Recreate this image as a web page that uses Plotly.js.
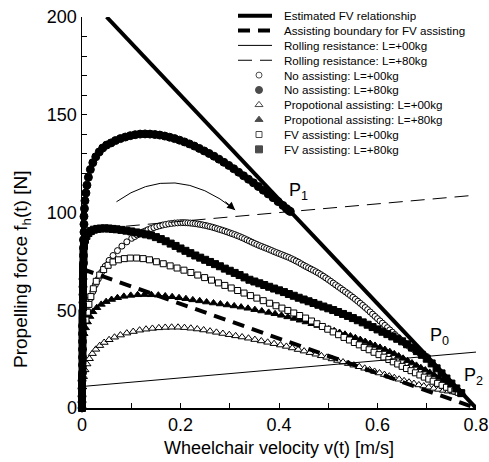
<!DOCTYPE html>
<html><head><meta charset="utf-8">
<script src="https://cdn.plot.ly/plotly-3.0.1.min.js"></script>
<style>html,body{margin:0;padding:0;background:#fff}</style>
</head><body><div id="chart" style="width:489px;height:462px"></div>
<script>
// ---------- data ----------
const fvLineV = [0.05, 0.8];
const fvLineF = [200, 0];
const boundaryV = [0, 0.8];
const boundaryF = [71.1, 0];
const rolling0V = [0, 0.8];
const rolling0F = [11, 28.6];
const rolling80V = [0, 0.8];
const rolling80F = [91, 108.9];

const noAsst0V = [0.010,0.013,0.017,0.022,0.027,0.033,0.040,0.047,0.055,0.063,0.072,0.081,0.091,
 0.101,0.107,0.112,0.118,0.123,0.129,0.134,0.140,0.146,0.152,0.158,0.164,0.170,0.176,0.182,0.188,0.194,0.200,
 0.205,0.21,0.215,0.22,0.225,0.23,0.235,0.24,0.245,0.25,0.255,0.26,0.265,0.27,0.275,0.28,0.285,0.29,0.295,0.30,
 0.305,0.31,0.315,0.32,0.325,0.33,0.335,0.34,0.345,0.35,0.355,0.36,0.365,0.37,0.375,0.38,0.385,0.39,0.395,0.40,
 0.405,0.41,0.415,0.42,0.425,0.43,0.435,0.44,0.445,0.45,0.455,0.46,0.465,0.47,0.475,0.48,0.485,0.49,0.495,0.50,
 0.505,0.51,0.515,0.52,0.525,0.53,0.535,0.54,0.545,0.55,0.555,0.56,0.565,0.57,0.575,0.58,0.585,0.59,0.595,0.60,
 0.605,0.61,0.615,0.62,0.625,0.63,0.635,0.64,0.645,0.65,0.655,0.66,0.665,0.67,0.675,0.68,0.685,0.69,0.695,0.70];
const noAsst0F = [49,52.5,56,59.5,63,66,69.5,72.5,75.5,78,80.5,82.8,85,
 86.8,87.7,88.5,89.3,90.0,90.6,91.2,91.8,92.3,92.8,93.2,93.6,93.9,94.2,94.4,94.6,94.7,94.8,
 94.8,94.8,94.7,94.6,94.45,94.3,94.1,93.9,93.65,93.4,93.1,92.8,92.45,92.1,91.7,91.3,90.9,90.5,90.05,89.6,
 89.15,88.7,88.2,87.7,87.15,86.6,86.0,85.4,84.8,84.2,83.65,83.1,82.6,82.1,81.6,81.1,80.55,80.0,79.5,79.0,
 78.5,78.0,77.5,77.0,76.4,75.8,75.15,74.5,73.75,73.0,72.35,71.7,71.05,70.4,69.7,69.0,68.2,67.4,66.55,65.7,
 64.8,63.9,63.0,62.1,61.2,60.3,59.4,58.5,57.55,56.6,55.6,54.6,53.55,52.5,51.4,50.3,49.15,48.0,46.85,45.7,
 44.55,43.4,42.25,41.1,39.95,38.8,37.6,36.4,35.3,34.2,33.2,32.2,31.35,30.5,29.7,28.9,28.2,27.5,26.8,26.3];

const noAsst80V = [0,0,0,0,0,0.001,0.001,0.001,0.001,0.001,0.001,0.001,0.002,0.002,0.002,0.002,0.002,0.002,0.003,0.003,0.003,0.003,0.003,0.004,0.004,0.004,
 0.005,0.006,0.008,0.010,0.013,0.017,0.022,0.028,0.035,0.042,0.050,0.059,0.068,0.078,0.088,0.098,0.108,0.118,0.128,0.138,0.148,0.158,0.168,0.178,0.188,0.198,0.208,0.218,0.228,0.238,0.248,0.258,0.268,0.278,0.288,0.298,0.308,0.318,0.328,0.338,0.348,0.358,0.368,0.378,0.388,0.398,0.408,0.415,0.420,0.423];
const noAsst80F = [0,3,6,10,14,18,22,26,30,34,38,42,46,50,54,58,62,66,70,74,78,82,86,90,94,98,
 102,106,110,114,118,122,125.5,128.5,131,133,134.5,135.6,136.8,137.8,138.6,139.3,139.8,140.1,140.2,140.1,139.9,139.6,139.1,138.5,137.8,137.0,136.1,135.1,134.0,132.8,131.5,130.2,128.8,127.3,125.7,124.1,122.4,120.6,118.8,117.0,115.2,113.3,111.4,109.5,107.6,105.6,103.6,102.0,101.0,100.5];

const propAsst0V = [0.003,0.006,0.010,0.015,0.021,0.028,0.036,0.045,0.055,0.066,0.078,0.091,0.104,0.117,0.130,0.143,0.156,0.169,0.182,0.195,0.208,0.221,0.234,0.247,0.260,0.273,0.286,0.299,0.312,0.325,0.338,0.351,0.364,0.377,0.390,0.403,0.415,0.427,0.439,0.451,0.463,0.475,0.486,0.497,0.508,0.519,0.530,0.541,0.552,0.563,0.574,0.584,0.594,0.604,0.614,0.624,0.634,0.644,0.654,0.664,0.674,0.684,0.694,0.704,0.714,0.724,0.734,0.744,0.754,0.762,0.770];
const propAsst0F = [16,19.5,22.5,25.2,27.8,30.0,31.9,33.5,34.9,36.2,37.3,38.3,39.1,39.8,40.3,40.7,41.0,41.2,41.3,41.3,41.1,40.8,40.4,39.9,39.3,38.7,38.1,37.5,36.9,36.3,35.7,35.0,34.3,33.6,32.9,32.2,31.5,30.7,29.9,29.1,28.3,27.5,26.7,25.9,25.1,24.3,23.5,22.7,21.9,21.1,20.3,19.5,18.7,17.9,17.1,16.3,15.5,14.7,13.9,13.2,12.5,11.8,11.2,10.6,10.0,9.5,9.0,8.6,8.2,7.9,7.6];

const propAsst80V = [0.004,0.007,0.011,0.016,0.022,0.030,0.039,0.049,0.060,0.072,0.085,0.099,0.113,0.127,0.141,0.155,0.169,0.183,0.197,0.211,0.225,0.239,0.253,0.267,0.281,0.295,0.309,0.323,0.337,0.351,0.365,0.379,0.392,0.405,0.418,0.431,0.443,0.455,0.467,0.479,0.490,0.501,0.512,0.523,0.534,0.545,0.555,0.565,0.575,0.585,0.595,0.605,0.615,0.625,0.634,0.643,0.652,0.661,0.670,0.679,0.688,0.697,0.706,0.715,0.724,0.733,0.742,0.750,0.757,0.763,0.768,0.771];
const propAsst80F = [38,41,44,46.8,49.2,51.3,53.0,54.4,55.5,56.4,57.1,57.6,57.9,58.0,57.9,57.7,57.3,56.9,56.4,55.9,55.3,54.8,54.2,53.7,53.2,52.7,52.2,51.6,51.0,50.3,49.6,48.9,48.2,47.4,46.6,45.8,44.9,44.0,43.1,42.2,41.3,40.4,39.5,38.6,37.7,36.8,35.9,35.0,34.0,33.0,32.0,31.0,29.9,28.8,27.7,26.6,25.4,24.2,23.0,21.8,20.6,19.4,18.2,16.9,15.6,14.3,13.0,11.7,10.5,9.3,8.3,7.7];

const fvAsst0V = [0.008,0.011,0.014,0.018,0.023,0.029,0.036,0.044,0.053,0.063,0.074,0.086,0.098,0.111,0.124,0.137,0.151,0.165,0.179,0.193,0.207,0.221,0.235,0.249,0.263,0.277,0.290,0.303,0.316,0.329,0.342,0.355,0.368,0.381,0.394,0.406,0.418,0.430,0.442,0.454,0.466,0.477,0.488,0.499,0.510,0.521,0.532,0.543,0.553,0.563,0.573,0.583,0.593,0.603,0.613,0.623,0.632,0.641,0.650,0.659,0.668,0.677,0.686,0.695,0.704,0.713,0.722,0.731,0.740,0.749,0.757,0.764,0.770];
const fvAsst0F = [45,49,53,57,61,64.8,68,70.8,73,74.7,75.8,76.4,76.7,76.7,76.4,75.8,74.8,73.8,72.7,71.6,70.5,69.3,68.0,66.7,65.4,64.0,62.7,61.4,60.1,58.8,57.5,56.2,54.9,53.6,52.3,51.1,49.9,48.6,47.3,46.0,44.5,43.1,41.7,40.3,38.9,37.5,36.1,34.8,33.5,32.3,31.0,29.8,28.5,27.3,26.0,24.8,23.6,22.5,21.3,20.2,19.1,18.0,16.9,15.8,14.8,13.7,12.6,11.6,10.6,9.6,8.7,8.0,7.5];

const fvAsst80V = [0,0,0,0,0,0.001,0.001,0.001,0.001,0.001,0.001,0.001,0.001,0.002,0.002,0.002,0.002,0.002,0.002,0.003,0.003,
 0.004,0.006,0.009,0.013,0.018,0.024,0.031,0.038,0.046,0.054,0.062,0.07,0.08,0.09,0.10,0.11,0.12,0.13,0.14,0.15,0.16,0.17,0.18,0.19,0.20,0.21,0.22,0.23,0.24,0.25,0.26,0.27,0.28,0.29,0.30,0.31,0.32,0.33,0.34,0.35,0.36,0.37,0.38,0.39,0.40,0.41,0.42,0.43,0.44,0.45,0.46,0.47,0.48,0.49,0.50,0.51,0.52,0.53,0.54,0.55,0.56,0.57,0.58,0.59,0.60,0.61,0.62,0.63,0.64,0.65,0.66,0.67,0.68,0.69,0.70,0.71,0.72,0.73,0.74,0.75,0.76,0.77];
const fvAsst80F = [0,4,8,12,16,20,24,28,32,36,40,44,48,52,56,60,64,68,72,76,80,
 83,86,88,89.5,90.5,91.2,91.6,91.8,91.9,91.8,91.6,91.4,91.1,90.7,90.3,89.8,89.3,88.8,88.3,87.4,86.4,85.3,84.1,82.9,81.6,80.4,79.2,78.0,76.9,75.8,74.7,73.6,72.5,71.3,70.2,69.1,68.0,66.8,65.6,64.7,63.8,62.9,62.0,61.1,60.2,59.3,58.3,57.4,56.4,55.5,54.6,53.7,52.8,51.9,51.0,50.1,49.1,48.1,47.1,46.0,44.9,43.8,42.6,41.4,40.2,39.0,37.8,36.6,35.4,34.1,32.6,30.9,29.1,27.2,25.2,22.8,20.3,17.7,15.1,12.5,10.0,7.6];

const legendLabels = ["Estimated FV relationship","Assisting boundary for FV assisting","Rolling resistance: L=+00kg","Rolling resistance: L=+80kg","No assisting: L=+00kg","No assisting: L=+80kg","Propotional assisting: L=+00kg","Propotional assisting: L=+80kg","FV assisting: L=+00kg","FV assisting: L=+80kg"];
const pointLabels = ["P<sub>1</sub>","P<sub>0</sub>","P<sub>2</sub>"];
const xTitle = "Wheelchair velocity v(t) [m/s]";
const yTitle = "Propelling force f<sub>h</sub>(t) [N]";

// ---------- styles / layout helpers ----------
const FONT = 'Liberation Sans, Arial, Helvetica, sans-serif';
const X0=82, X1=476, Y0=408, Y1=17;
const px2x = p => (p-X0)/(X1-X0);
const py2y = p => (Y0-p)/(Y0-Y1);

const lineSeries = [[fvLineV,fvLineF],[boundaryV,boundaryF],[rolling0V,rolling0F],[rolling80V,rolling80F]];
const lineStyles = [{width:4,dash:'solid'},{width:4,dash:'12px,8px'},{width:1,dash:'solid'},{width:1,dash:'14px,8px'}];
const markerSeries = [[noAsst0V,noAsst0F],[noAsst80V,noAsst80F],[propAsst0V,propAsst0F],[propAsst80V,propAsst80F],[fvAsst0V,fvAsst0F],[fvAsst80V,fvAsst80F]];
const markerStyles = [
 {symbol:'circle',color:'white',size:6},
 {symbol:'circle',color:'black',size:8},
 {symbol:'triangle-up',color:'white',size:7},
 {symbol:'triangle-up',color:'black',size:7},
 {symbol:'square',color:'white',size:6},
 {symbol:'square',color:'black',size:7}
];

const traces = [];
markerSeries.forEach((s,i)=>{
  const st = markerStyles[i];
  traces.push({x:s[0],y:s[1],type:'scatter',mode:'markers',cliponaxis:false,hoverinfo:'skip',showlegend:false,
    marker:{symbol:st.symbol,size:st.size,color:st.color,line:{color:'black',width:1}}});
});
lineSeries.forEach((s,i)=>{
  const st = lineStyles[i];
  traces.push({x:s[0],y:s[1],type:'scatter',mode:'lines',cliponaxis:false,hoverinfo:'skip',showlegend:false,
    line:{color:'black',width:st.width,dash:st.dash}});
});

// custom legend
const LEG_TOP=15.7, LEG_STEP=14.85, LEG_LINE0=238, LEG_LINE1=272, LEG_MARK=259, LEG_TEXT=281.7;
const shapes = [];
const annotations = [];
legendLabels.forEach((lab,i)=>{
  const yy = py2y(LEG_TOP + i*LEG_STEP);
  annotations.push({xref:'paper',yref:'paper',x:px2x(LEG_TEXT),y:yy,xanchor:'left',yanchor:'middle',showarrow:false,
    text:lab,font:{family:FONT,size:11.6,color:'black'}});
  if(i<4){
    shapes.push({type:'line',xref:'paper',yref:'paper',x0:px2x(LEG_LINE0),x1:px2x(LEG_LINE1),y0:yy,y1:yy,
      line:{color:'black',width:lineStyles[i].width,dash:lineStyles[i].dash}});
  }
});
traces.push({x:markerStyles.map(()=>px2x(LEG_MARK)),y:markerStyles.map((s,i)=>py2y(LEG_TOP+(i+4)*LEG_STEP)),
  xaxis:'x2',yaxis:'y2',type:'scatter',mode:'markers',hoverinfo:'skip',showlegend:false,cliponaxis:false,
  marker:{symbol:markerStyles.map(s=>s.symbol),size:markerStyles.map(s=>Math.min(s.size,7)),color:markerStyles.map(s=>s.color),line:{color:'black',width:1}}});

// curved arrow
shapes.push({type:'path',xref:'x',yref:'y',path:'M 0.070,105.5 Q 0.187,126.8 0.311,101.3',line:{color:'black',width:1}});
annotations.push({xref:'x',yref:'y',axref:'x',ayref:'y',x:0.311,y:101.3,ax:0.288,ay:106.2,text:'',showarrow:true,
  arrowhead:2,arrowsize:1.6,arrowwidth:1,arrowcolor:'black'});

// point labels
const pointPos = [[px2x(286.7),py2y(205)],[px2x(428.3),py2y(350)],[px2x(461.7),py2y(390)]];
pointLabels.forEach((t,i)=>{
  annotations.push({xref:'paper',yref:'paper',x:pointPos[i][0],y:pointPos[i][1],xanchor:'left',yanchor:'bottom',showarrow:false,
    text:t,font:{family:FONT,size:18,color:'black'}});
});

// axis titles
annotations.push({xref:'paper',yref:'paper',x:0.5,y:py2y(448),xanchor:'center',yanchor:'middle',showarrow:false,
  text:xTitle,font:{family:FONT,size:18,color:'black'}});
annotations.push({xref:'paper',yref:'paper',x:px2x(22),y:py2y(270),xanchor:'center',yanchor:'middle',showarrow:false,textangle:-90,
  text:yTitle,font:{family:FONT,size:19,color:'black'}});

const axisCommon = {showgrid:false,zeroline:false,showline:true,linecolor:'black',linewidth:1.5,ticks:'inside',ticklen:5,tickwidth:1,tickcolor:'black',
  tickfont:{family:FONT,size:18,color:'black'},fixedrange:true};
const layout = {
  width:489,height:462,margin:{l:X0,r:489-X1,t:Y1,b:462-Y0},
  paper_bgcolor:'white',plot_bgcolor:'white',showlegend:false,
  xaxis:Object.assign({},axisCommon,{range:[0,0.8],tick0:0,dtick:0.2,minor:{dtick:0.1,ticks:'inside',ticklen:5,tickcolor:'black',tickwidth:1}}),
  yaxis:Object.assign({},axisCommon,{range:[0,200],tick0:0,dtick:50,minor:{dtick:10,ticks:'inside',ticklen:5,tickcolor:'black',tickwidth:1}}),
  xaxis2:{overlaying:'x',range:[0,1],visible:false,fixedrange:true},
  yaxis2:{overlaying:'y',range:[0,1],visible:false,fixedrange:true},
  shapes:shapes,annotations:annotations
};
Plotly.newPlot('chart',traces,layout,{staticPlot:true,displayModeBar:false});
</script></body></html>
